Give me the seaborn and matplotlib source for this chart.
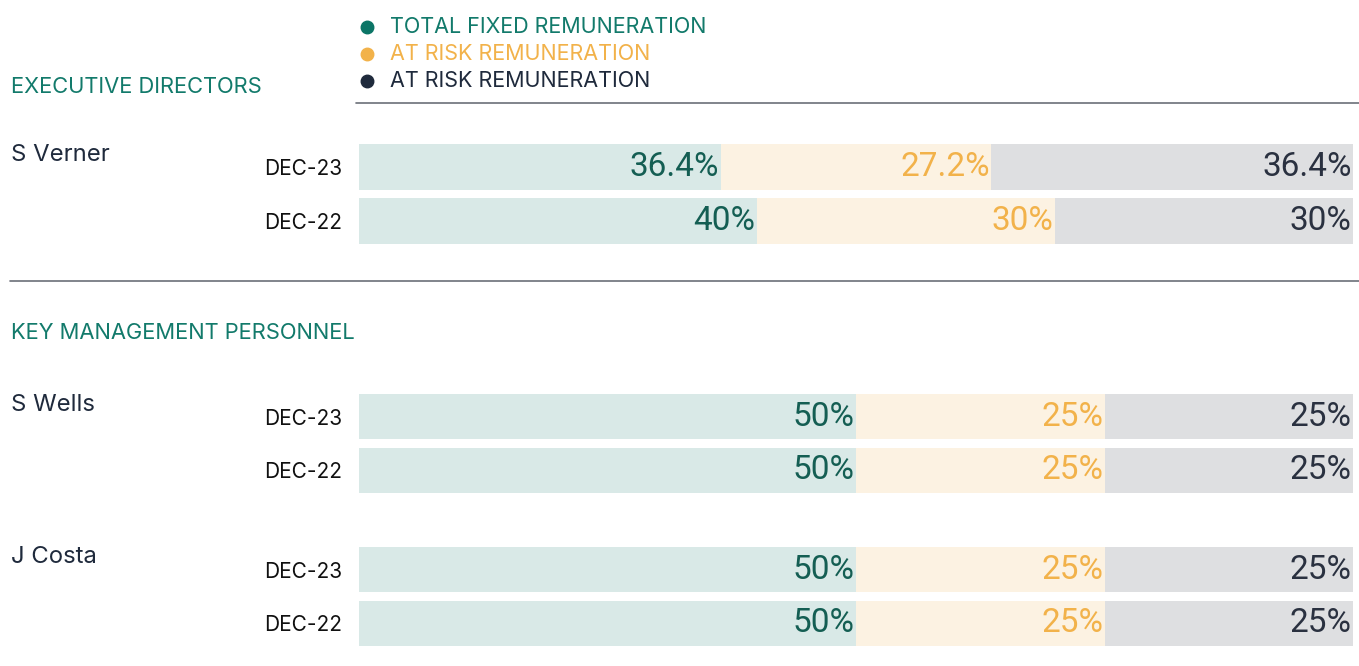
import numpy as np
import pandas as pd
import seaborn as sns
import matplotlib.pyplot as plt
from matplotlib.lines import Line2D

# data
people = ["S Verner", "S Wells", "J Costa"]
years = ["DEC-23", "DEC-22"]
fixed = [[36.4, 40], [50, 50], [50, 50]]
at_risk_1 = [[27.2, 30], [25, 25], [25, 25]]
at_risk_2 = [[36.4, 30], [25, 25], [25, 25]]
legend_labels = ["TOTAL FIXED REMUNERATION", "AT RISK REMUNERATION", "AT RISK REMUNERATION"]

# colours
teal = "#127a6b"
orange = "#f2b24a"
navy = "#1f2a3c"
bar_cols = ["#d9e9e7", "#fcf2e2", "#dedfe1"]
txt_cols = ["#145e53", "#f2b24a", "#2a3140"]

W, H = 1359, 666
sns.set_theme(style="white")
plt.rcParams["font.family"] = ["Inter", "DejaVu Sans"]

fig = plt.figure(figsize=(W / 100, H / 100), dpi=100)


def px_axes(x0, y0, x1, y1):
    return fig.add_axes([x0 / W, 1 - y1 / H, (x1 - x0) / W, (y1 - y0) / H])


def draw_person(ax, i):
    df = pd.DataFrame({
        "year": years,
        "fixed": fixed[i],
        "risk1": at_risk_1[i],
        "risk2": at_risk_2[i],
    })
    df["c1"] = df["fixed"]
    df["c2"] = df["fixed"] + df["risk1"]
    df["c3"] = df["c2"] + df["risk2"]
    # stacked by overdrawing cumulative totals
    for col, colour in zip(["c3", "c2", "c1"], bar_cols[::-1]):
        sns.barplot(data=df, x=col, y="year", color=colour, width=0.85,
                    saturation=1, ax=ax, orient="h", linewidth=0)
    for j, row in df.iterrows():
        for col, seg, c in zip(["c1", "c2", "c3"], ["fixed", "risk1", "risk2"], txt_cols):
            ax.annotate(f"{row[seg]:g}%", (row[col], j), xytext=(-1, 0),
                        textcoords="offset points", ha="right", va="center",
                        fontsize=24, color=c, fontfamily="Roboto")
    ax.set_xlim(0, 100)
    ax.set_ylim(1.5, -0.5)
    ax.set_xlabel("")
    ax.set_ylabel("")
    ax.set_xticks([])
    ax.tick_params(axis="y", length=0, pad=12, labelsize=15, labelcolor="#111111")
    sns.despine(ax=ax, left=True, bottom=True)


rows_px = [(140, 248), (390, 497), (543, 650)]
for i, (y0, y1) in enumerate(rows_px):
    ax = px_axes(359, y0, 1353, y1)
    draw_person(ax, i)
    name_y = [155, 405, 557][i]
    fig.text(11 / W, 1 - name_y / H, people[i], fontsize=17.2, color=navy,
             va="center", ha="left")

# section headings
fig.text(11 / W, 1 - 87 / H, "EXECUTIVE DIRECTORS", fontsize=15.8, color=teal,
         va="center", ha="left")
fig.text(11 / W, 1 - 333 / H, "KEY MANAGEMENT PERSONNEL", fontsize=15.8, color=teal,
         va="center", ha="left")

# legend
for k, (lab, c) in enumerate(zip(legend_labels, [teal, orange, navy])):
    yy = 1 - [27, 54, 81][k] / H
    fig.add_artist(Line2D([367 / W], [yy], marker="o", markersize=9,
                          color=["#0b7566", orange, navy][k], linestyle="none",
                          transform=fig.transFigure))
    fig.text(390 / W, yy, lab, fontsize=15.5, color=c, va="center", ha="left")

# rules
fig.add_artist(Line2D([356 / W, 1], [1 - 103 / H] * 2, color="#6b6f78", lw=1.2,
                      transform=fig.transFigure))
fig.add_artist(Line2D([10 / W, 1], [1 - 281 / H] * 2, color="#6b6f78", lw=1.2,
                      transform=fig.transFigure))

fig.savefig("out.png", dpi=100)
